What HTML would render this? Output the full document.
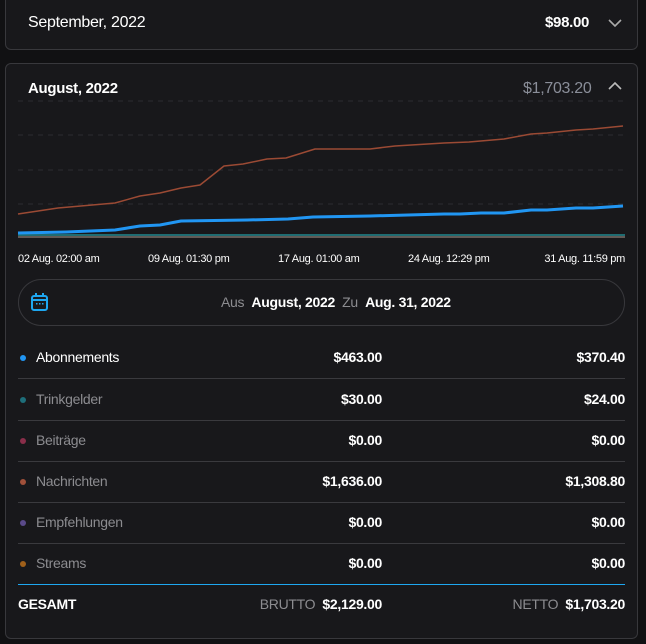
<!DOCTYPE html><html><head><meta charset="utf-8"><style>
*{margin:0;padding:0;box-sizing:border-box}
body{width:646px;height:644px;background:#111113;font-family:"Liberation Sans",sans-serif;color:#fff;position:relative;overflow:hidden}
.card{position:absolute;left:5px;width:633px;background:#18181b;border:1px solid #38383c;border-radius:6px}
.a{position:absolute;white-space:nowrap}
.t{font-size:15px;letter-spacing:-0.3px}
.r{text-align:right}
.row{font-size:14px;letter-spacing:-0.3px}
.dot{position:absolute;width:6px;height:6px;border-radius:3px}
.sep{position:absolute;left:18px;width:607px;height:1px;background:#3a3a3e}
.b{font-weight:bold}
.g{color:#8c8c90}
</style></head><body>
<div class="card" style="top:-8px;height:58px"></div>
<div class="a t" style="left:28px;top:14px;font-size:16px">September, 2022</div>
<div class="a t b" style="left:545px;top:14px;font-size:15px">$98.00</div>
<svg class="a" style="left:607px;top:17px" width="16" height="12"><polyline points="2,3 8,9 14,3" fill="none" stroke="#aaa" stroke-width="1.6"/></svg>
<div class="card" style="top:63px;height:576px"></div>
<div class="a t b" style="left:28px;top:80px;font-size:15px">August, 2022</div>
<div class="a t" style="left:523px;top:80px;font-size:16px;color:#8a8e99">$1,703.20</div>
<svg class="a" style="left:607px;top:80px" width="16" height="12"><polyline points="2,9 8,3 14,9" fill="none" stroke="#bbb" stroke-width="1.6"/></svg>
<svg class="a" style="left:0;top:0" width="646" height="270">
<g stroke="#2c2c30" stroke-dasharray="5,5" stroke-width="1">
<line x1="18" y1="101" x2="625" y2="101"/><line x1="18" y1="135" x2="625" y2="135"/><line x1="18" y1="170" x2="625" y2="170"/><line x1="18" y1="204" x2="625" y2="204"/></g>
<line x1="18" y1="237" x2="625" y2="237" stroke="#7a706a" stroke-width="1.5"/>
<line x1="18" y1="235" x2="625" y2="235" stroke="#1f6c72" stroke-width="2"/>
<polyline fill="none" stroke="#9b4a34" stroke-width="1.5" stroke-linejoin="round" points="18,214 58,208 115,203 140,196 160,193 181,188 200,185 224,166 243,164 267,159 286,158 315,149 370,149 395,146 444,143 469,142 504,139 531,134 547,133 576,130 593,129 623,126"/>
<polyline fill="none" stroke="#2196f3" stroke-width="3" stroke-linejoin="round" points="18,233 66,232 115,230 140,226 160,225 181,221 247,220 288,219 313,217 370,216 444,214 460,214 481,213 504,213 531,210 547,210 576,208 593,208 623,206"/>
<g font-size="11" fill="#fff" font-family="Liberation Sans" letter-spacing="-0.3">
<text x="18" y="262">02 Aug. 02:00 am</text><text x="148" y="262">09 Aug. 01:30 pm</text><text x="278" y="262">17 Aug. 01:00 am</text><text x="408" y="262">24 Aug. 12:29 pm</text><text x="625" y="262" text-anchor="end">31 Aug. 11:59 pm</text></g>
</svg>
<div class="a" style="left:18px;top:279px;width:607px;height:47px;border:1px solid #38383c;border-radius:24px"></div>
<svg class="a" style="left:30px;top:292px" width="20" height="20"><rect x="2" y="4" width="15" height="14" rx="2" fill="none" stroke="#1ea7f0" stroke-width="2"/><line x1="2" y1="8" x2="17" y2="8" stroke="#1ea7f0" stroke-width="2"/><line x1="6" y1="1" x2="6" y2="5" stroke="#1ea7f0" stroke-width="2"/><line x1="13" y1="1" x2="13" y2="5" stroke="#1ea7f0" stroke-width="2"/><g fill="#1ea7f0"><rect x="6" y="11" width="1.5" height="1.5"/><rect x="9" y="11" width="1.5" height="1.5"/><rect x="12" y="11" width="1.5" height="1.5"/></g></svg>
<div class="a row" style="left:221px;top:294px"><span class="g">Aus</span>&nbsp; <b>August, 2022</b>&nbsp; <span class="g">Zu</span>&nbsp; <b>Aug. 31, 2022</b></div>

<div class="dot" style="left:20px;top:355px;background:#2196f3"></div><div class="a row" style="left:36px;top:349px">Abonnements</div><div class="a row b r" style="right:264px;top:349px">$463.00</div><div class="a row b r" style="right:21px;top:349px">$370.40</div>
<div class="sep" style="top:378px"></div>
<div class="dot" style="left:20px;top:397px;background:#1e6e7a"></div><div class="a row g" style="left:36px;top:391px">Trinkgelder</div><div class="a row b r" style="right:264px;top:391px">$30.00</div><div class="a row b r" style="right:21px;top:391px">$24.00</div>
<div class="sep" style="top:420px"></div>
<div class="dot" style="left:20px;top:438px;background:#8a2e4a"></div><div class="a row g" style="left:36px;top:432px">Beiträge</div><div class="a row b r" style="right:264px;top:432px">$0.00</div><div class="a row b r" style="right:21px;top:432px">$0.00</div>
<div class="sep" style="top:461px"></div>
<div class="dot" style="left:20px;top:479px;background:#a0503a"></div><div class="a row g" style="left:36px;top:473px">Nachrichten</div><div class="a row b r" style="right:264px;top:473px">$1,636.00</div><div class="a row b r" style="right:21px;top:473px">$1,308.80</div>
<div class="sep" style="top:502px"></div>
<div class="dot" style="left:20px;top:520px;background:#5a4a8a"></div><div class="a row g" style="left:36px;top:514px">Empfehlungen</div><div class="a row b r" style="right:264px;top:514px">$0.00</div><div class="a row b r" style="right:21px;top:514px">$0.00</div>
<div class="sep" style="top:543px"></div>
<div class="dot" style="left:20px;top:561px;background:#a0601a"></div><div class="a row g" style="left:36px;top:555px">Streams</div><div class="a row b r" style="right:264px;top:555px">$0.00</div><div class="a row b r" style="right:21px;top:555px">$0.00</div>
<div class="sep" style="top:584px;background:#1ea7f0"></div>
<div class="a row b" style="left:18px;top:596px">GESAMT</div>
<div class="a row r" style="right:264px;top:596px"><span class="g">BRUTTO</span>&nbsp; <b>$2,129.00</b></div>
<div class="a row r" style="right:21px;top:596px"><span class="g">NETTO</span>&nbsp; <b>$1,703.20</b></div>
</body></html>
